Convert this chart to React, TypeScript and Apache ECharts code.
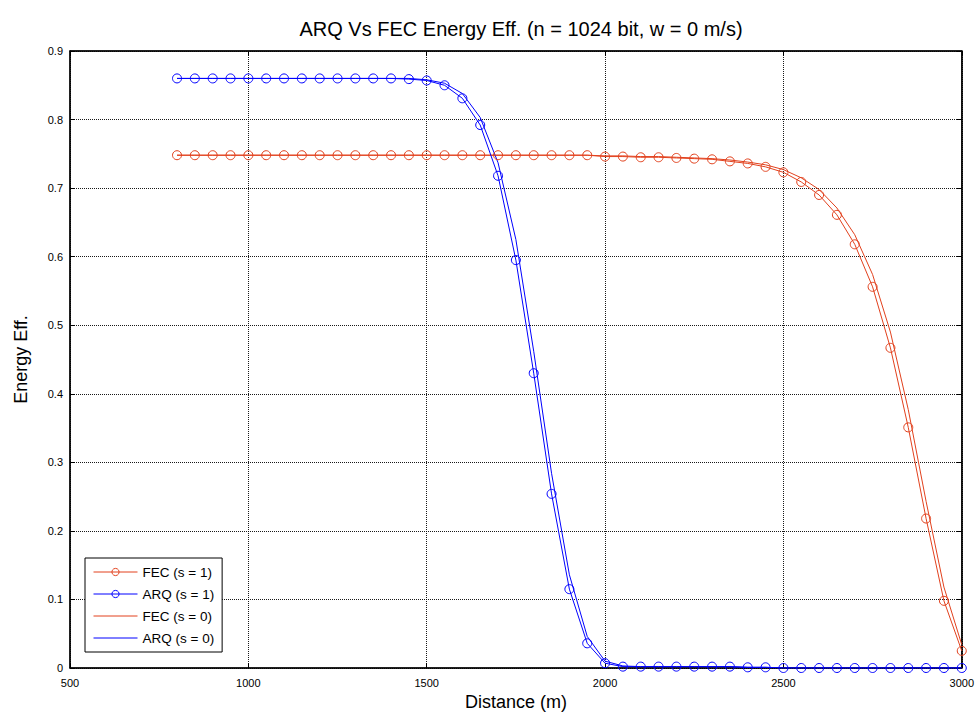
import React, { useEffect, useRef } from "react";
import * as echarts from "echarts";

const distances = [
  800, 850, 900, 950, 1000, 1050, 1100, 1150, 1200, 1250, 1300, 1350, 1400, 1450,
  1500, 1550, 1600, 1650, 1700, 1750, 1800, 1850, 1900, 1950, 2000, 2050, 2100,
  2150, 2200, 2250, 2300, 2350, 2400, 2450, 2500, 2550, 2600, 2650, 2700, 2750,
  2800, 2850, 2900, 2950, 3000,
];

const fecS1 = [
  0.748, 0.748, 0.748, 0.748, 0.748, 0.748, 0.748, 0.748, 0.748, 0.748, 0.748, 0.748,
  0.748, 0.748, 0.748, 0.748, 0.748, 0.748, 0.748, 0.748, 0.748, 0.748, 0.748, 0.748,
  0.746, 0.746, 0.745, 0.745, 0.744, 0.743, 0.742, 0.739, 0.736, 0.731, 0.723, 0.709,
  0.69, 0.661, 0.618, 0.556, 0.467, 0.351, 0.218, 0.098, 0.025,
];

const arqS1 = [
  0.86, 0.86, 0.86, 0.86, 0.86, 0.86, 0.86, 0.86, 0.86, 0.86, 0.86, 0.86, 0.86, 0.859,
  0.857, 0.85, 0.831, 0.792, 0.718, 0.595, 0.43, 0.254, 0.115, 0.036, 0.007, 0.002,
  0.002, 0.002, 0.002, 0.002, 0.002, 0.002, 0.001, 0.001, 0, 0, 0, 0, 0, 0, 0, 0, 0, 0, 0,
];

const fecS0 = [
  0.748, 0.748, 0.748, 0.748, 0.748, 0.748, 0.748, 0.748, 0.748, 0.748, 0.748, 0.748,
  0.748, 0.748, 0.748, 0.748, 0.748, 0.748, 0.748, 0.748, 0.748, 0.748, 0.748, 0.748,
  0.747, 0.747, 0.746, 0.746, 0.745, 0.744, 0.743, 0.741, 0.738, 0.734, 0.727, 0.715,
  0.698, 0.671, 0.632, 0.574, 0.49, 0.377, 0.243, 0.118, 0.034,
];

const arqS0 = [
  0.86, 0.86, 0.86, 0.86, 0.86, 0.86, 0.86, 0.86, 0.86, 0.86, 0.86, 0.86, 0.86, 0.86,
  0.858, 0.853, 0.838, 0.803, 0.737, 0.625, 0.462, 0.284, 0.136, 0.046, 0.01, 0.003,
  0.002, 0.002, 0.002, 0.002, 0.002, 0.002, 0.001, 0.001, 0, 0, 0, 0, 0, 0, 0, 0, 0, 0, 0,
];

const xTicks = [500, 1000, 1500, 2000, 2500, 3000];
const yTicks = [0, 0.1, 0.2, 0.3, 0.4, 0.5, 0.6, 0.7, 0.8, 0.9];

const RED = "#e2411d";
const BLUE = "#0000ff";
const FONT = "'Liberation Sans', Arial, sans-serif";

function pairs(ys: number[]) {
  return distances.map((d, i) => [d, ys[i]]);
}

export default function App() {
  const ref = useRef<HTMLDivElement>(null);
  useEffect(() => {
    if (!ref.current) return;
    const chart = echarts.init(ref.current, undefined, { renderer: "svg" });
    const gridLine = { show: true, lineStyle: { color: "#000", type: [1, 1] as any, width: 1, opacity: 0.9 } };
    const baseX = {
      type: "value" as const,
      min: xTicks[0],
      max: xTicks[xTicks.length - 1],
      interval: 500,
    };
    const baseY = {
      type: "value" as const,
      min: yTicks[0],
      max: yTicks[yTicks.length - 1],
      interval: 0.1,
    };
    const hiddenIcon = { color: "rgba(0,0,0,0)", borderWidth: 0, borderColor: "rgba(0,0,0,0)" };
    const markerIcon = (c: string) => ({ color: "rgba(0,0,0,0)", borderWidth: 1, borderColor: c });
    chart.setOption({
      animation: false,
      backgroundColor: "#fff",
      title: {
        text: "ARQ Vs FEC Energy Eff. (n = 1024 bit, w = 0 m/s)",
        left: 516,
        textAlign: "center",
        top: 14,
        textStyle: { fontFamily: FONT, fontSize: 20, fontWeight: "normal", color: "#000" },
      },
      grid: { left: 70, right: 15, top: 51, bottom: 52, show: true, borderColor: "#000", borderWidth: 1 },
      xAxis: [
        {
          ...baseX,
          position: "bottom",
          name: "Distance (m)",
          nameLocation: "middle",
          nameGap: 25,
          nameTextStyle: { fontFamily: FONT, fontSize: 18, color: "#000" },
          axisLine: { show: true, onZero: false, lineStyle: { color: "#000", width: 1.5 } },
          axisTick: { show: true, inside: true, length: 5, lineStyle: { color: "#000" } },
          axisLabel: { fontFamily: FONT, fontSize: 11, color: "#000", margin: 9, formatter: (v: number) => String(v) },
          splitLine: gridLine,
        },
        {
          ...baseX,
          position: "top",
          axisLine: { show: true, onZero: false, lineStyle: { color: "#000", width: 1.5 } },
          axisTick: { show: true, inside: true, length: 5, lineStyle: { color: "#000" } },
          axisLabel: { show: false },
          splitLine: { show: false },
        },
      ],
      yAxis: [
        {
          ...baseY,
          position: "left",
          name: "Energy Eff.",
          nameLocation: "middle",
          nameGap: 40,
          nameTextStyle: { fontFamily: FONT, fontSize: 18, color: "#000" },
          axisLine: { show: true, onZero: false, lineStyle: { color: "#000", width: 1.5 } },
          axisTick: { show: true, inside: true, length: 5, lineStyle: { color: "#000" } },
          axisLabel: { fontFamily: FONT, fontSize: 11, color: "#000", margin: 7, formatter: (v: number) => String(Math.round(v * 10) / 10) },
          splitLine: gridLine,
        },
        {
          ...baseY,
          position: "right",
          axisLine: { show: true, onZero: false, lineStyle: { color: "#000", width: 1.5 } },
          axisTick: { show: true, inside: true, length: 5, lineStyle: { color: "#000" } },
          axisLabel: { show: false },
          splitLine: { show: false },
        },
      ],
      legend: {
        left: 85,
        top: 558,
        orient: "vertical",
        backgroundColor: "#fff",
        borderColor: "#000",
        borderWidth: 1,
        borderRadius: 0,
        padding: [7, 8, 7, 8],
        itemGap: 8,
        itemWidth: 44,
        itemHeight: 9,
        lineStyle: { width: 1 },
        textStyle: { fontFamily: FONT, fontSize: 13.5, color: "#000" },
        data: [
          { name: "FEC (s = 1)", itemStyle: markerIcon(RED) },
          { name: "ARQ (s = 1)", itemStyle: markerIcon(BLUE) },
          { name: "FEC (s = 0)", itemStyle: hiddenIcon },
          { name: "ARQ (s = 0)", itemStyle: hiddenIcon },
        ],
      },
      series: [
        {
          name: "FEC (s = 0)",
          type: "line",
          data: pairs(fecS0),
          symbol: "none",
          lineStyle: { color: RED, width: 1 },
          itemStyle: { color: RED },
          z: 2,
        },
        {
          name: "ARQ (s = 0)",
          type: "line",
          data: pairs(arqS0),
          symbol: "none",
          lineStyle: { color: BLUE, width: 1 },
          itemStyle: { color: BLUE },
          z: 2,
        },
        {
          name: "FEC (s = 1)",
          type: "line",
          data: pairs(fecS1),
          symbol: "circle",
          symbolSize: 9,
          showAllSymbol: true,
          lineStyle: { color: RED, width: 1 },
          itemStyle: { color: "rgba(0,0,0,0)", borderColor: RED, borderWidth: 1 },
          z: 3,
        },
        {
          name: "ARQ (s = 1)",
          type: "line",
          data: pairs(arqS1),
          symbol: "circle",
          symbolSize: 9,
          showAllSymbol: true,
          lineStyle: { color: BLUE, width: 1 },
          itemStyle: { color: "rgba(0,0,0,0)", borderColor: BLUE, borderWidth: 1 },
          z: 3,
        },
      ],
    });
    return () => chart.dispose();
  }, []);
  return <div ref={ref} style={{ width: 977, height: 720, position: "absolute", left: 0, top: 0 }} />;
}
